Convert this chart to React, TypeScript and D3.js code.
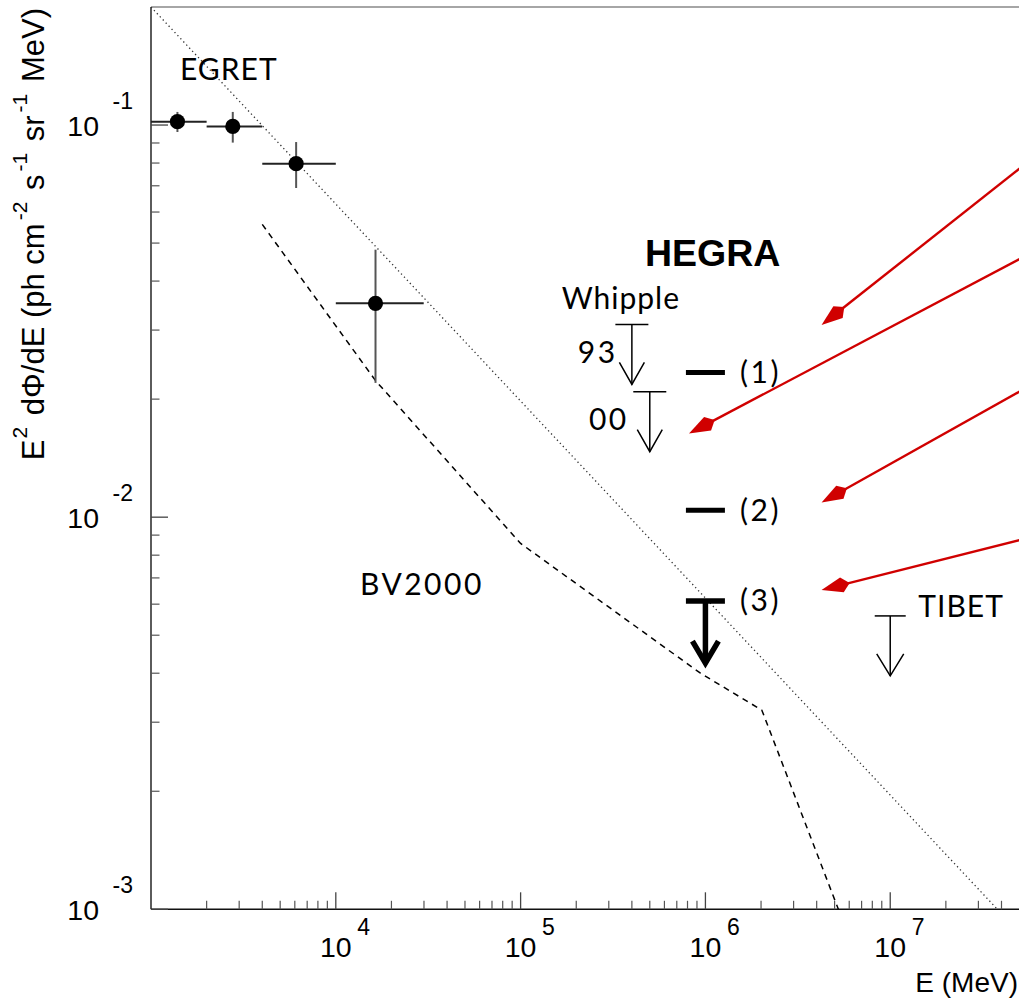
import React from "react";
import * as d3 from "d3";

// ---------- data ----------
const egretE = [1.39e3, 2.77e3, 6.1e3, 1.64e4];
const egretELo = [1.0e3, 2.0e3, 4.0e3, 1.0e4];
const egretEHi = [2.0e3, 4.0e3, 1.0e4, 2.99e4];
const egretF = [0.102, 0.0992, 0.0797, 0.0351];
const egretFLo = [0.096, 0.0902, 0.0691, 0.022];
const egretFHi = [0.108, 0.108, 0.0905, 0.0481];

const bvE = [4.0e3, 1.64e4, 1.0e5, 9.4e5, 2.02e6, 5.24e6];
const bvF = [0.0558, 0.0223, 8.57e-3, 4.0e-3, 3.22e-3, 1.0e-3];

const powE = [1.0e3, 3.8e7];
const powF = [0.2, 1.0e-3];

const whippleE = [4.0e5, 5.0e5];
const whippleF = [0.031, 0.0209];

const hegraE = [1.0e6, 1.0e6, 1.0e6];
const hegraF = [0.0234, 0.01042, 6.11e-3];
const hegraIsLimit = [false, false, true];

const tibetE = [1.0e7];
const tibetF = [5.6e-3];

// red annotation arrows: tip -> tail
const arrowTipE = [4.25e6, 8.15e5, 4.25e6, 4.25e6];
const arrowTipF = [0.0309, 0.01634, 0.0109, 6.52e-3];
const arrowTailE = [5.0e7, 5.0e7, 5.0e7, 5.0e7];
const arrowTailF = [0.0774, 0.0455, 0.0209, 8.74e-3];

// text annotations (baseline-left anchors in data coords)
const labelText = ["EGRET", "Whipple", "93", "00", "(1)", "(2)", "(3)", "TIBET", "BV2000"];
const labelE = [1.435e3, 1.667e5, 2.04e5, 2.344e5, 1.54e6, 1.54e6, 1.54e6, 1.42e7, 1.35e4];
const labelF = [0.13, 0.034, 0.02473, 0.01666, 0.02196, 9.78e-3, 5.77e-3, 5.57e-3, 6.33e-3];

const hegraTitle = "HEGRA";
const hegraTitleE = 4.71e5;
const hegraTitleF = 0.0436;

const xTickValues = [1e4, 1e5, 1e6, 1e7];
const xTickExp = ["4", "5", "6", "7"];
const yTickValues = [1e-3, 1e-2, 1e-1];
const yTickExp = ["-3", "-2", "-1"];

const xTitle = "E (MeV)";

// ---------- chart ----------
const W = 1019;
const H = 1000;
const L = 151;
const R = 1019.4;
const T = 7;
const B = 909.3;

const x = d3.scaleLog().domain([1e3, 5e7]).range([L, R]);
const y = d3.scaleLog().domain([1e-3, 0.2]).range([B, T]);

const helv = "'Liberation Sans', Arial, Helvetica, sans-serif";
const gothic = "Lato, 'DejaVu Sans', sans-serif";

function minorTicks(lo: number, hi: number, maxV: number) {
  const out: number[] = [];
  for (let d = lo; d <= hi; d++) {
    for (let m = 2; m <= 9; m++) {
      const v = m * Math.pow(10, d);
      if (v < maxV) out.push(v);
    }
  }
  return out;
}

function UpperLimit({ e, f, half, head, len, sw }: { e: number; f: number; half: number; head: number; len: number; sw: number }) {
  const cx = x(e);
  const cy = y(f);
  const ey = cy + len;
  return (
    <g stroke="#000" strokeWidth={sw} fill="none">
      <line x1={cx - half} x2={cx + half} y1={cy} y2={cy} />
      <line x1={cx} x2={cx} y1={cy} y2={ey} />
      <polyline points={`${cx - head},${ey - 22} ${cx},${ey} ${cx + head},${ey - 22}`} strokeLinejoin="miter" />
    </g>
  );
}

export default function App() {
  const xMinor = minorTicks(3, 7, 5e7);
  const yMinor = minorTicks(-3, -1, 0.2);
  const lineGen = d3
    .line<[number, number]>()
    .x((d) => x(d[0]))
    .y((d) => y(d[1]));

  const bvPts = bvE.map((e, i) => [e, bvF[i]] as [number, number]);
  const powPts = powE.map((e, i) => [e, powF[i]] as [number, number]);

  const sup = 21;
  const raise = 17;

  return (
    <svg
      width={W}
      height={H}
      viewBox={`0 0 ${W} ${H}`}
      style={{ position: "absolute", left: 0, top: 0, background: "#fff" }}
    >
      <rect x={0} y={0} width={W} height={H} fill="#fff" />

      {/* frame */}
      <line x1={L} x2={W} y1={T} y2={T} stroke="#888" strokeWidth={1.5} />
      <line x1={L} x2={L} y1={T} y2={B} stroke="#333" strokeWidth={1.6} />
      <line x1={L} x2={W} y1={B} y2={B} stroke="#111" strokeWidth={1.6} />

      {/* x ticks */}
      {xMinor.map((v, i) => (
        <line key={"xm" + i} x1={x(v)} x2={x(v)} y1={B} y2={B - 8.5} stroke="#555" strokeWidth={1.2} />
      ))}
      {xTickValues.map((v, i) => (
        <g key={"xt" + i}>
          <line x1={x(v)} x2={x(v)} y1={B} y2={B - 17} stroke="#444" strokeWidth={1.3} />
          <text x={x(v)} y={957} textAnchor="middle" fontFamily={helv} fontSize={28.5} fill="#000">10</text>
          <text x={x(v) + 21.5} y={935} textAnchor="start" fontFamily={helv} fontSize={23} fill="#000">{xTickExp[i]}</text>
        </g>
      ))}

      {/* y ticks */}
      {yMinor.map((v, i) => (
        <line key={"ym" + i} x1={L} x2={L + 8.5} y1={y(v)} y2={y(v)} stroke="#555" strokeWidth={1.2} />
      ))}
      {yTickValues.map((v, i) => (
        <g key={"yt" + i}>
          <line x1={L} x2={L + 17} y1={y(v)} y2={y(v)} stroke="#444" strokeWidth={1.3} />
          <text x={99} y={y(v) + 11} textAnchor="end" fontFamily={helv} fontSize={28.5} fill="#000">10</text>
          <text x={112.5} y={y(v) - 16} textAnchor="start" fontFamily={helv} fontSize={23} fill="#000">{yTickExp[i]}</text>
        </g>
      ))}

      {/* axis titles */}
      <text x={1018} y={992} textAnchor="end" fontFamily={helv} fontSize={28} fill="#000">{xTitle}</text>
      <text
        transform={`translate(44, 8) rotate(-90)`}
        textAnchor="end"
        fontFamily={helv}
        fontSize={31}
        fill="#000"
      >
        <tspan>E</tspan>
        <tspan fontSize={sup} dx={1} dy={-raise}>2</tspan>
        <tspan dx={3} dy={raise}> dΦ/dE (ph cm</tspan>
        <tspan fontSize={sup} dx={3} dy={-raise}>-2</tspan>
        <tspan dx={3} dy={raise}> s</tspan>
        <tspan fontSize={sup} dx={3} dy={-raise}>-1</tspan>
        <tspan dx={3} dy={raise}> sr</tspan>
        <tspan fontSize={sup} dx={3} dy={-raise}>-1</tspan>
        <tspan dx={3} dy={raise}> MeV)</tspan>
      </text>

      <defs>
        <clipPath id="plotclip">
          <rect x={L} y={T} width={W - L} height={B - T} />
        </clipPath>
      </defs>

      <g clipPath="url(#plotclip)">
        {/* power-law dotted line */}
        <path d={lineGen(powPts) || ""} fill="none" stroke="#333" strokeWidth={1.3} strokeDasharray="1.3 3" />
        {/* BV2000 dashed */}
        <path d={lineGen(bvPts) || ""} fill="none" stroke="#000" strokeWidth={1.5} strokeDasharray="6 5" />
      </g>

      {/* EGRET points */}
      {egretE.map((e, i) => (
        <g key={"eg" + i}>
          <line x1={x(egretELo[i])} x2={x(egretEHi[i])} y1={y(egretF[i])} y2={y(egretF[i])} stroke="#222" strokeWidth={2} />
          <line x1={x(e)} x2={x(e)} y1={y(egretFLo[i])} y2={y(egretFHi[i])} stroke="#555" strokeWidth={2} />
          <circle cx={x(e)} cy={y(egretF[i])} r={7.6} fill="#000" />
        </g>
      ))}

      {/* Whipple limits */}
      {whippleE.map((e, i) => (
        <UpperLimit key={"wh" + i} e={e} f={whippleF[i]} half={16.5} head={12.5} len={60} sw={1.5} />
      ))}

      {/* TIBET limit */}
      {tibetE.map((e, i) => (
        <UpperLimit key={"tb" + i} e={e} f={tibetF[i]} half={15.5} head={13.5} len={60} sw={1.5} />
      ))}

      {/* HEGRA */}
      {hegraE.map((e, i) =>
        hegraIsLimit[i] ? (
          <UpperLimit key={"hg" + i} e={e} f={hegraF[i]} half={19.5} head={13} len={62} sw={5.5} />
        ) : (
          <line key={"hg" + i} x1={x(e) - 19.5} x2={x(e) + 19.5} y1={y(hegraF[i])} y2={y(hegraF[i])} stroke="#000" strokeWidth={5} />
        )
      )}

      {/* labels */}
      {labelText.map((t, i) => (
        <text
          key={"lb" + i}
          x={x(labelE[i])}
          y={y(labelF[i])}
          fontFamily={gothic}
          fontSize={30}
          letterSpacing={/\d/.test(t) ? 2.5 : 1}
          fill="#000"
        >
          {t}
        </text>
      ))}
      <text x={x(hegraTitleE)} y={y(hegraTitleF)} fontFamily={helv} fontWeight="bold" fontSize={37.5} fill="#000">
        {hegraTitle}
      </text>

      {/* red arrows */}
      {arrowTipE.map((e, i) => {
        const tx = x(e);
        const ty = y(arrowTipF[i]);
        const sx = x(arrowTailE[i]);
        const sy = y(arrowTailF[i]);
        const len = Math.hypot(sx - tx, sy - ty);
        const ux = (sx - tx) / len;
        const uy = (sy - ty) / len;
        const nx = -uy;
        const ny = ux;
        const pts = [
          [tx, ty],
          [tx + 21 * ux + 7.5 * nx, ty + 21 * uy + 7.5 * ny],
          [tx + 29 * ux, ty + 29 * uy],
          [tx + 21 * ux - 7.5 * nx, ty + 21 * uy - 7.5 * ny],
        ];
        return (
          <g key={"ra" + i}>
            <line x1={tx + 25 * ux} y1={ty + 25 * uy} x2={sx + 20 * ux} y2={sy + 20 * uy} stroke="#d00000" strokeWidth={2.4} />
            <polygon points={pts.map((p) => p.join(",")).join(" ")} fill="#d00000" />
          </g>
        );
      })}
    </svg>
  );
}
